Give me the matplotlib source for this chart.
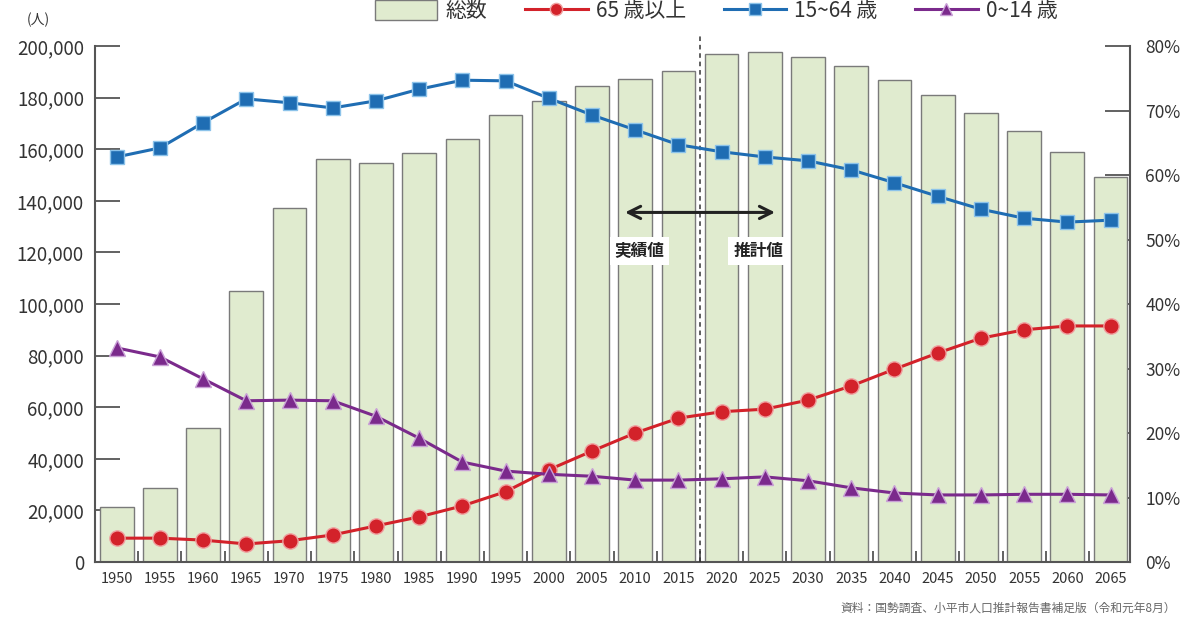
import matplotlib
matplotlib.use("Agg")
import matplotlib.pyplot as plt
from matplotlib.ticker import FuncFormatter, MultipleLocator
import numpy as np

plt.rcParams['font.family'] = ['Noto Sans CJK JP', 'DejaVu Sans']

years = [1950, 1955, 1960, 1965, 1970, 1975, 1980, 1985, 1990, 1995, 2000, 2005,
         2010, 2015, 2020, 2025, 2030, 2035, 2040, 2045, 2050, 2055, 2060, 2065]
total = [21300, 28700, 51800, 105000, 137200, 156200, 154700, 158500, 164000, 173300,
         178700, 184500, 187200, 190300, 196900, 197700, 195700, 192200, 186800,
         181000, 174000, 167000, 158900, 149200]
age65 = [3.7, 3.7, 3.4, 2.8, 3.3, 4.2, 5.6, 7.0, 8.7, 10.9, 14.3, 17.2, 20.0, 22.3,
         23.3, 23.7, 25.1, 27.3, 29.9, 32.4, 34.7, 36.0, 36.6, 36.6]
age15_64 = [62.8, 64.2, 68.1, 71.8, 71.2, 70.4, 71.5, 73.3, 74.7, 74.6, 71.9, 69.3,
            67.0, 64.7, 63.6, 62.8, 62.2, 60.8, 58.8, 56.7, 54.7, 53.3, 52.7, 53.0]
age0_14 = [33.2, 31.8, 28.4, 25.0, 25.1, 25.0, 22.6, 19.2, 15.5, 14.1, 13.6, 13.3,
           12.7, 12.7, 12.9, 13.2, 12.6, 11.5, 10.7, 10.4, 10.4, 10.5, 10.5, 10.4]

x = np.arange(len(years))
axis_col = "#555555"
text_col = "#333333"
xlim = (-0.5, 23.45)

fig = plt.figure(figsize=(11.94, 6.26), dpi=100)
rect = [0.0796, 0.1022, 0.8668, 0.8243]

# right axis (ticks + labels only), drawn underneath the bars
axr = fig.add_axes(rect)
axr.set_zorder(0)
axr.set_xlim(*xlim)
axr.set_ylim(0, 80)
axr.yaxis.tick_right()
axr.yaxis.set_major_locator(MultipleLocator(10))
axr.yaxis.set_major_formatter(FuncFormatter(lambda v, p: "%d%%" % v))
axr.tick_params(axis="y", direction="in", length=18, width=1.3, color=axis_col,
                labelsize=12.5, labelcolor=text_col, pad=11)
axr.set_xticks([])
for s in ["top", "left", "bottom"]:
    axr.spines[s].set_visible(False)
axr.spines["right"].set_color(axis_col)
axr.spines["right"].set_linewidth(1.5)

# bars on left axis
ax = fig.add_axes(rect)
ax.set_zorder(1)
ax.patch.set_visible(False)
ax.bar(x, total, width=0.78, color="#e0ebcf", edgecolor="#7a7a7a", linewidth=1.0,
       label="総数", zorder=2)
ax.set_xlim(*xlim)
ax.set_ylim(0, 200000)
ax.yaxis.set_major_locator(MultipleLocator(20000))
ax.yaxis.set_major_formatter(FuncFormatter(lambda v, p: "{:,.0f}".format(v)))
ax.set_axisbelow(True)
ax.tick_params(axis="y", direction="in", length=18, width=1.3, color=axis_col,
               labelsize=13.5, labelcolor=text_col, pad=8)
ax.set_xticks(x)
ax.set_xticklabels([str(y) for y in years])
ax.set_xticks(x[:-1] + 0.5, minor=True)
ax.tick_params(axis="x", which="major", length=0, labelsize=10.5, labelcolor=text_col, pad=7)
ax.tick_params(axis="x", which="minor", direction="in", length=8, width=1.3, color=axis_col)
for s in ["top", "right"]:
    ax.spines[s].set_visible(False)
for s in ["left", "bottom"]:
    ax.spines[s].set_color(axis_col)
    ax.spines[s].set_linewidth(1.5)

# divider between actual and projected values
ax.axvline(13.5, ymin=0, ymax=1.02, color="#333333", linestyle=(0, (3, 2.5)),
           linewidth=1.1, zorder=3, clip_on=False)
ax.annotate("", xy=(11.7, 135500), xytext=(15.3, 135500),
            arrowprops=dict(arrowstyle="<->", color="#222222", lw=2.2,
                            mutation_scale=22), zorder=4)
box = dict(boxstyle="square,pad=0.3", facecolor="white", edgecolor="none")
ax.text(12.1, 120500, "実績値", ha="center", va="center", fontsize=12,
        fontweight="bold", color="#222222", bbox=box, zorder=4)
ax.text(14.85, 120500, "推計値", ha="center", va="center", fontsize=12,
        fontweight="bold", color="#222222", bbox=box, zorder=4)

# lines on percent scale, on top
axl = fig.add_axes(rect)
axl.set_zorder(2)
axl.patch.set_visible(False)
axl.set_xlim(*xlim)
axl.set_ylim(0, 80)
axl.axis("off")
axl.plot(x, age65, color="#d3222a", linewidth=2.2, marker="o", markersize=11,
         markeredgecolor="#f0a0a0", markeredgewidth=1.0, label="65 歳以上")
axl.plot(x, age15_64, color="#1f6db3", linewidth=2.2, marker="s", markersize=10.5,
         markeredgecolor="#8cc3ea", markeredgewidth=1.0, label="15~64 歳")
axl.plot(x, age0_14, color="#7b2a8c", linewidth=2.2, marker="^", markersize=11.5,
         markeredgecolor="#c9a0d6", markeredgewidth=1.0, label="0~14 歳")

h1, l1 = ax.get_legend_handles_labels()
h2, l2 = axl.get_legend_handles_labels()
fig.legend(h1 + h2, l1 + l2, loc="upper center", bbox_to_anchor=(0.6, 1.03),
           ncol=4, frameon=False, fontsize=15, handlelength=3.0, handleheight=1.1,
           columnspacing=1.8, handletextpad=0.4, labelcolor=text_col,
           markerscale=0.8)

fig.text(0.022, 0.968, "(人)", fontsize=10, color=text_col, ha="left", va="center")
fig.text(0.985, 0.028, "資料：国勢調査、小平市人口推計報告書補足版（令和元年8月）",
         fontsize=8.5, color="#666666", ha="right", va="center")

fig.savefig("out.png", dpi=100)
